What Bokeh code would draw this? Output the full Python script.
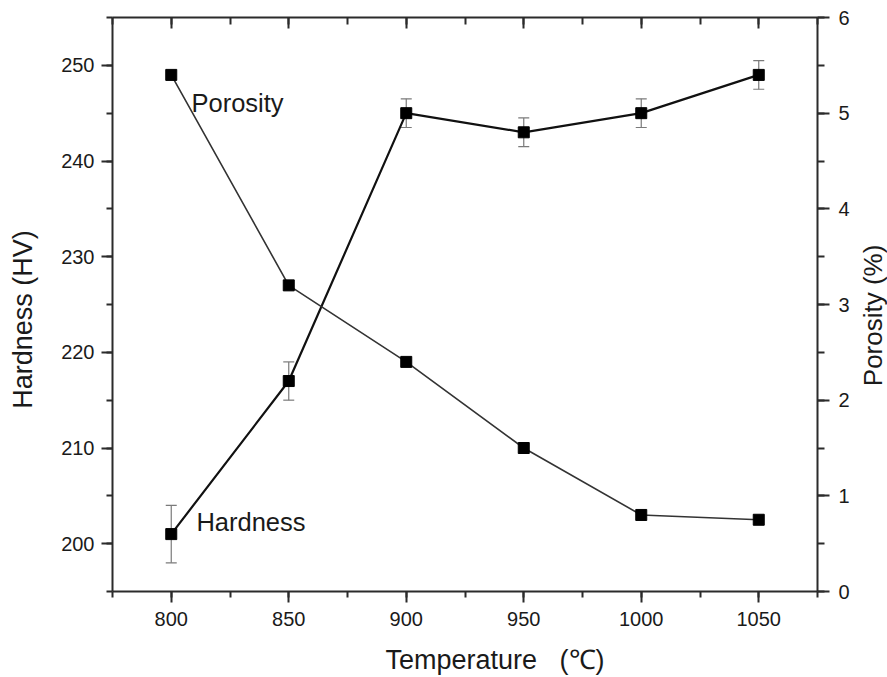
import math
from bokeh.plotting import figure
from bokeh.layouts import row
from bokeh.models import (LinearAxis, Range1d, SingleIntervalTicker, ColumnDataSource,
                          Whisker, Label, TeeHead, CustomJSTickFormatter)
from bokeh.core.properties import value
from bokeh.embed import file_html
from bokeh.resources import INLINE

# ---- data ----
temperature = [800, 850, 900, 950, 1000, 1050]
hardness = [201, 217, 245, 243, 245, 249]
hardness_err = [3, 2, 1.5, 1.5, 1.5, 1.5]
porosity = [5.4, 3.2, 2.4, 1.5, 0.8, 0.75]

NB = "\u00a0"
x_title = NB * 8 + "Temperature" + NB * 3 + "(\u2103)"
left_title = "Hardness (HV)" + NB * 4
right_title = "Porosity (%)"

FONT = "Liberation Sans"
TXT = "#1a1a1a"
AX = "#2b2b2b"

p = figure(width=857, height=677, output_backend="svg", toolbar_location=None,
           x_range=Range1d(775, 1075), y_range=Range1d(195, 255),
           min_border_left=112, min_border_right=40, min_border_top=17, min_border_bottom=86)
p.extra_y_ranges = {"por": Range1d(0, 6)}
p.xgrid.visible = False
p.ygrid.visible = False
p.outline_line_color = None
p.background_fill_color = "white"
p.border_fill_color = "white"

def style_axis(ax, tick_out=11, minor_out=6, tick_in=0, minor_in=0):
    ax.axis_line_color = AX
    ax.axis_line_width = 2
    ax.major_tick_line_color = AX
    ax.major_tick_line_width = 2
    ax.minor_tick_line_color = AX
    ax.minor_tick_line_width = 2
    ax.major_tick_out = tick_out
    ax.major_tick_in = tick_in
    ax.minor_tick_out = minor_out
    ax.minor_tick_in = minor_in
    ax.major_label_text_font = FONT
    ax.major_label_text_font_size = "20px"
    ax.major_label_text_color = TXT
    ax.axis_label_text_font = FONT
    ax.axis_label_text_font_size = "27px"
    ax.axis_label_text_font_style = "normal"
    ax.axis_label_text_color = TXT

xa = p.xaxis[0]
xa.ticker = SingleIntervalTicker(interval=50, num_minor_ticks=2)
style_axis(xa)
xa.major_label_standoff = 9
xa.axis_label = x_title
xa.axis_label_standoff = 16

ya = p.yaxis[0]
ya.ticker = SingleIntervalTicker(interval=10, num_minor_ticks=2)
style_axis(ya)
ya.major_label_standoff = 7
ya.axis_label = left_title
ya.axis_label_standoff = 20

top = LinearAxis(ticker=SingleIntervalTicker(interval=50, num_minor_ticks=2),
                 formatter=CustomJSTickFormatter(code="return ''"))
style_axis(top, tick_out=0, minor_out=0, tick_in=11, minor_in=7)
top.major_label_standoff = 0
top.major_label_text_font_size = "1px"
p.add_layout(top, "above")

ra = LinearAxis(y_range_name="por", ticker=SingleIntervalTicker(interval=1, num_minor_ticks=2))
style_axis(ra, tick_out=12, minor_out=7)
ra.major_label_standoff = 9
p.add_layout(ra, "right")

# error bars for hardness
src = ColumnDataSource(dict(
    x=temperature,
    h=hardness,
    upper=[h + e for h, e in zip(hardness, hardness_err)],
    lower=[h - e for h, e in zip(hardness, hardness_err)],
))
p.add_layout(Whisker(base="x", upper="upper", lower="lower", source=src, dimension="height",
                     line_color="#7a7a7a", line_width=1.2,
                     upper_head=TeeHead(size=11, line_color="#7a7a7a", line_width=1.2),
                     lower_head=TeeHead(size=11, line_color="#7a7a7a", line_width=1.2)))

# hardness series
p.line(temperature, hardness, line_color="#111111", line_width=2.2)
p.scatter(temperature, hardness, marker="square", size=11, fill_color="black", line_color="black")

# porosity series
p.line(temperature, porosity, y_range_name="por", line_color="#333333", line_width=1.6)
p.scatter(temperature, porosity, y_range_name="por", marker="square", size=11,
          fill_color="black", line_color="black")

# annotations
p.add_layout(Label(x=808.6, y=246.1, text="Porosity", text_font=FONT, text_font_size="25.5px",
                   text_color=TXT, text_baseline="alphabetic", text_align="left"))
p.add_layout(Label(x=810.7, y=202.3, text="Hardness", text_font=FONT, text_font_size="25.5px",
                   text_color=TXT, text_baseline="alphabetic", text_align="left"))

# right-hand axis title in a narrow strip (reads bottom-to-top)
p2 = figure(width=30, height=677, output_backend="svg", toolbar_location=None,
            x_range=Range1d(0, 1), y_range=Range1d(0, 1),
            x_axis_location=None, y_axis_location=None,
            min_border_left=0, min_border_right=0, min_border_top=0, min_border_bottom=0)
p2.grid.visible = False
p2.outline_line_color = None
p2.border_fill_color = "white"
p2.text(x=[0.52], y=[0.481], text=[right_title], angle=math.pi / 2,
        text_align="center", text_baseline="middle", text_font=value(FONT),
        text_font_size="26px", text_color=TXT)

layout = row(p, p2, spacing=0)
open("out.html", "w").write(file_html(layout, INLINE))
